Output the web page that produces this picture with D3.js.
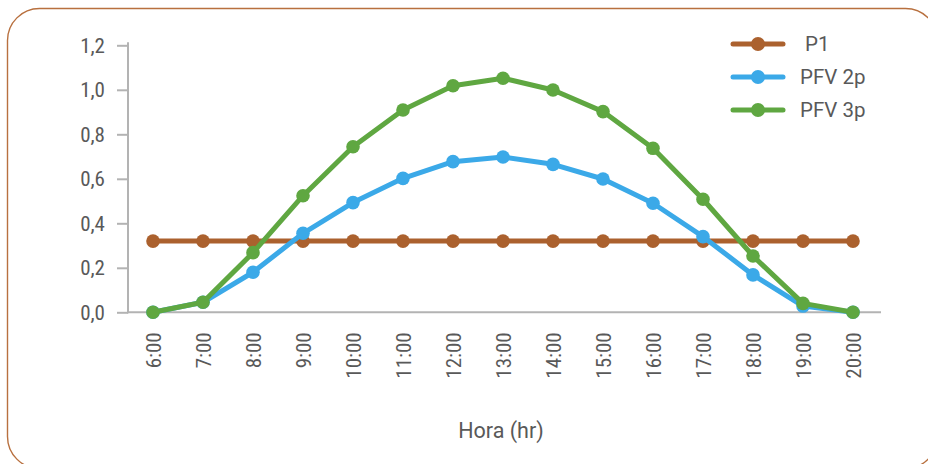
<!DOCTYPE html>
<html>
<head>
<meta charset="utf-8">
<script src="https://cdn.jsdelivr.net/npm/d3@7"></script>
<style>
  html, body { margin: 0; padding: 0; background: #ffffff; }
  svg { display: block; }
  .tick-label { font-family: "Roboto", "Liberation Sans", sans-serif; font-stretch: condensed; fill: #595959; }
  .label { font-family: "Roboto", "Liberation Sans", sans-serif; fill: #595959; }
</style>
</head>
<body>
<svg id="chart" width="928" height="464"></svg>
<script>
// Hourly power profile: constant load P1 against two PV generation curves
const hours = ["6:00", "7:00", "8:00", "9:00", "10:00", "11:00", "12:00", "13:00",
               "14:00", "15:00", "16:00", "17:00", "18:00", "19:00", "20:00"];
const p1    = [0.32, 0.32, 0.32, 0.32, 0.32, 0.32, 0.32, 0.32, 0.32, 0.32, 0.32, 0.32, 0.32, 0.32, 0.32];
const pfv2p = [0, 0.045, 0.18, 0.355, 0.493, 0.602, 0.677, 0.698, 0.665, 0.599, 0.49, 0.34, 0.168, 0.028, 0];
const pfv3p = [0, 0.045, 0.268, 0.524, 0.744, 0.909, 1.018, 1.052, 0.999, 0.902, 0.737, 0.508, 0.253, 0.04, 0];
const yTicks = [0, 0.2, 0.4, 0.6, 0.8, 1.0, 1.2];
const seriesNames  = [" P1", "PFV 2p", "PFV 3p"];
const seriesColors = ["#ab612e", "#3ba9e8", "#5fa741"];
const xTitle = "Hora (hr)";

const series = [p1, pfv2p, pfv3p].map((values, i) => ({
  name: seriesNames[i], color: seriesColors[i], values
}));

const svg = d3.select("#chart");

// rounded frame
svg.append("rect")
  .attr("x", 7.5).attr("y", 8.5)
  .attr("width", 930).attr("height", 460)
  .attr("rx", 32).attr("ry", 32)
  .attr("fill", "none")
  .attr("stroke", "#b8703f")
  .attr("stroke-width", 1.4);

const plot = { left: 128, right: 878, top: 45.3, bottom: 312.3 };

const x = d3.scaleBand().domain(hours).range([plot.left, plot.right]).padding(0);
const y = d3.scaleLinear().domain([0, 1.2]).range([plot.bottom, plot.top]);
const cx = d => x(d) + x.bandwidth() / 2;
const fmt = v => d3.format(".1f")(v).replace(".", ",");

// y axis
const yAxis = svg.append("g")
  .attr("transform", `translate(${plot.left},0)`)
  .call(d3.axisLeft(y).tickValues(yTicks).tickFormat(fmt).tickSize(11).tickPadding(12));
yAxis.select(".domain").remove();
yAxis.append("line")
  .attr("x1", 0).attr("x2", 0)
  .attr("y1", plot.top - 3).attr("y2", plot.bottom + 1)
  .attr("stroke", "#b3b3b3").attr("stroke-width", 2);
yAxis.selectAll(".tick line").attr("stroke", "#b3b3b3").attr("stroke-width", 2);
yAxis.selectAll(".tick text")
  .attr("class", "tick-label")
  .attr("font-size", 21)
  .attr("fill", "#595959");

// x axis
const xAxis = svg.append("g")
  .attr("transform", `translate(0,${plot.bottom})`)
  .call(d3.axisBottom(x).tickSize(0).tickPadding(0));
xAxis.select(".domain").remove();
xAxis.append("line")
  .attr("x1", plot.left - 1).attr("x2", plot.right + 3)
  .attr("y1", 0).attr("y2", 0)
  .attr("stroke", "#b3b3b3").attr("stroke-width", 2);
xAxis.selectAll(".tick text")
  .attr("class", "tick-label")
  .attr("font-size", 21)
  .attr("fill", "#595959")
  .attr("text-anchor", "end")
  .attr("transform", "rotate(-90)")
  .attr("x", -20)
  .attr("y", 0)
  .attr("dy", "0.36em");

// axis title
svg.append("text")
  .attr("class", "label")
  .attr("x", (plot.left + plot.right) / 2 - 2)
  .attr("y", 438)
  .attr("text-anchor", "middle")
  .attr("font-size", 21.5)
  .text(xTitle);

// series lines and markers
const line = d3.line()
  .x((v, i) => cx(hours[i]))
  .y(v => y(v));

const g = svg.append("g");
series.forEach(s => {
  g.append("path")
    .datum(s.values)
    .attr("d", line)
    .attr("fill", "none")
    .attr("stroke", s.color)
    .attr("stroke-width", 5)
    .attr("stroke-linejoin", "round");
  g.selectAll(null)
    .data(s.values)
    .join("circle")
    .attr("cx", (v, i) => cx(hours[i]))
    .attr("cy", v => y(v))
    .attr("r", 6.8)
    .attr("fill", s.color);
});

// legend
const legend = svg.append("g");
series.forEach((s, i) => {
  const ly = 44 + i * 33;
  legend.append("line")
    .attr("x1", 733).attr("x2", 783)
    .attr("y1", ly).attr("y2", ly)
    .attr("stroke", s.color).attr("stroke-width", 5)
    .attr("stroke-linecap", "round");
  legend.append("circle")
    .attr("cx", 758).attr("cy", ly).attr("r", 7)
    .attr("fill", s.color);
  legend.append("text")
    .attr("class", "label")
    .attr("x", 800).attr("y", ly)
    .attr("dy", "0.35em")
    .attr("font-size", 20.5)
    .attr("xml:space", "preserve")
    .style("white-space", "pre")
    .text(s.name);
});
</script>
</body>
</html>
